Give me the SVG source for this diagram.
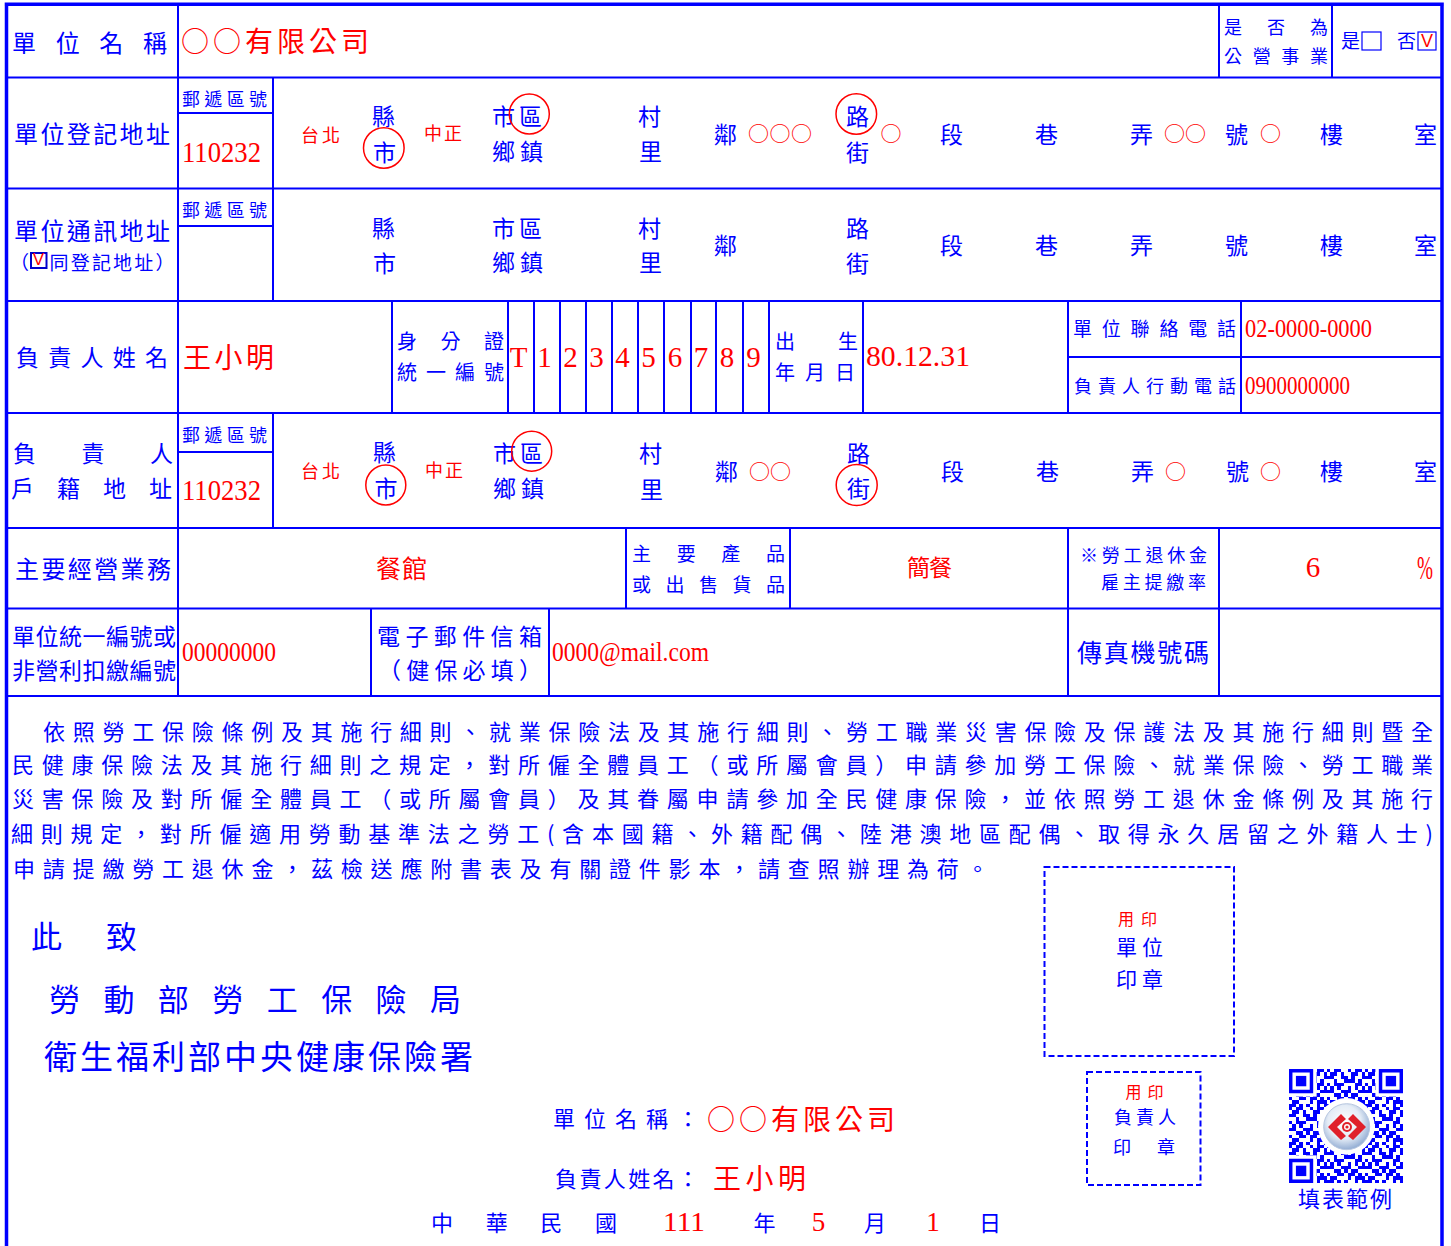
<svg xmlns="http://www.w3.org/2000/svg" width="1451" height="1246" viewBox="0 0 1451 1246">
<style>
.t{font-family:"Noto Sans CJK TC","Noto Sans CJK SC",sans-serif;fill:#0000FF}
.rd{fill:#FF0000}
.s{font-family:"Liberation Serif","Noto Sans CJK TC",serif;fill:#FF0000}
.ln{stroke:#0000FF;stroke-width:2;fill:none}
.ob{stroke:#0000FF;stroke-width:3.5;fill:none}
.ring{fill:none;stroke:#FF0000;stroke-width:1.5}
.dash{fill:none;stroke:#0000FF;stroke-width:2;stroke-dasharray:6 3}
.bx{fill:none;stroke:#0000FF;stroke-width:1.2}
.v{font-family:"Liberation Sans",sans-serif;fill:#FF0000}
</style>
<defs>
<pattern id="qrt" patternUnits="userSpaceOnUse" width="11" height="11">
<path fill="#0000FF" shape-rendering="crispEdges" d="M0 0h1v1h-1z M2 0h2v1h-2z M6 0h1v1h-1z M8 0h2v1h-2z M1 1h2v1h-2z M4 1h1v1h-1z M7 1h2v1h-2z M10 1h1v1h-1z M0 2h2v1h-2z M4 2h2v1h-2z M7 2h1v1h-1z M10 2h1v1h-1z M2 3h1v1h-1z M5 3h3v1h-3z M9 3h1v1h-1z M0 4h1v1h-1z M2 4h3v1h-3z M8 4h2v1h-2z M1 5h1v1h-1z M3 5h1v1h-1z M6 5h1v1h-1z M8 5h1v1h-1z M10 5h1v1h-1z M0 6h2v1h-2z M4 6h3v1h-3z M9 6h2v1h-2z M2 7h2v1h-2z M5 7h1v1h-1z M7 7h2v1h-2z M0 8h1v1h-1z M3 8h2v1h-2z M6 8h2v1h-2z M9 8h1v1h-1z M1 9h2v1h-2z M6 9h1v1h-1z M8 9h3v1h-3z M0 10h2v1h-2z M3 10h1v1h-1z M5 10h1v1h-1z M8 10h1v1h-1z M10 10h1v1h-1z"/>
</pattern>
<radialGradient id="lg" cx="0.45" cy="0.4" r="0.6">
<stop offset="0" stop-color="#ffffff"/>
<stop offset="0.6" stop-color="#e4ecf6"/>
<stop offset="1" stop-color="#94aed4"/>
</radialGradient>
</defs>
<rect width="1451" height="1246" fill="#ffffff"/>

<g id="connectors">
<path class="ob" d="M4.7 4.2H1443.8 M6.5 2.5V1246 M1442 2.5V1246"/>
<path class="ln" d="M6.5 77.5H1442 M6.5 188.5H1442 M6.5 301H1442 M6.5 413H1442 M6.5 528H1442 M6.5 608.5H1442 M6.5 696H1442 M178 4V696 M1219 4V77.5 M1332 4V77.5 M273 77.5V301 M273 413V528 M178 113H273 M178 226H273 M178 452H273 M392 301V413 M508 301V413 M534 301V413 M560 301V413 M586 301V413 M612 301V413 M638 301V413 M664 301V413 M691 301V413 M716 301V413 M743 301V413 M769 301V413 M863 301V413 M1068 301V413 M1241 301V413 M1068 357H1442 M626 528V608.5 M790 528V608.5 M1068 528V696 M1219 528V696 M371 608.5V696 M549 608.5V696"/>
</g>

<g id="row-name">
<text class="t" x="12" y="51.6" font-size="24" textLength="155" lengthAdjust="spacing">單位名稱</text>
<text class="t rd" x="181" y="52.3" font-size="28" textLength="188" lengthAdjust="spacing">○○有限公司</text>
<text class="t" x="1224" y="33.8" font-size="18" textLength="104" lengthAdjust="spacing">是否為</text>
<text class="t" x="1224" y="62.8" font-size="18" textLength="104" lengthAdjust="spacing">公營事業</text>
<text class="t" x="1341" y="48.2" font-size="19">是</text>
<rect class="bx" x="1362" y="32" width="19" height="18"/>
<text class="t" x="1397" y="48.2" font-size="19">否</text>
<rect class="bx" x="1418" y="32" width="18" height="18"/>
<text class="v" x="1427" y="47" font-size="18" text-anchor="middle">V</text>
</g>

<g id="row-reg-address">
<text class="t" x="14" y="143.1" font-size="24" textLength="156" lengthAdjust="spacing">單位登記地址</text>
<text class="t" x="182" y="105.8" font-size="18" textLength="85" lengthAdjust="spacing">郵遞區號</text>
<text class="s" x="182" y="162.3" font-size="29" textLength="79" lengthAdjust="spacingAndGlyphs">110232</text>
<text class="t rd" x="301" y="141.8" font-size="18" textLength="39" lengthAdjust="spacing">台北</text>
<text class="t" x="372" y="125.2" font-size="23">縣</text>
<text class="t" x="373" y="160.7" font-size="23">市</text>
<circle class="ring" cx="383.8" cy="148" r="20.3"/>
<text class="t rd" x="424" y="140.3" font-size="18" textLength="38" lengthAdjust="spacing">中正</text>
<text class="t" x="492" y="125.4" font-size="23" textLength="50" lengthAdjust="spacing">市區</text>
<circle class="ring" cx="529.3" cy="114" r="20"/>
<text class="t" x="492" y="159.7" font-size="23" textLength="51" lengthAdjust="spacing">鄉鎮</text>
<text class="t" x="638" y="125.4" font-size="23">村</text>
<text class="t" x="639" y="159.7" font-size="23">里</text>
<text class="t" x="714" y="143.2" font-size="23">鄰</text>
<text class="t rd" x="748" y="141.3" font-size="21" textLength="64" lengthAdjust="spacing">○○○</text>
<text class="t" x="846" y="125.4" font-size="23">路</text>
<circle class="ring" cx="856.3" cy="114" r="20.3"/>
<text class="t" x="846" y="160.7" font-size="23">街</text>
<text class="t rd" x="880.5" y="141.3" font-size="21">○</text>
<text class="t" x="940" y="143.2" font-size="23">段</text>
<text class="t" x="1035" y="143.2" font-size="23">巷</text>
<text class="t" x="1130" y="143.2" font-size="23">弄</text>
<text class="t rd" x="1164" y="141.3" font-size="21" textLength="42" lengthAdjust="spacing">○○</text>
<text class="t" x="1225" y="143.2" font-size="23">號</text>
<text class="t rd" x="1260" y="141.3" font-size="21">○</text>
<text class="t" x="1320" y="143.2" font-size="23">樓</text>
<text class="t" x="1414" y="143.2" font-size="23">室</text>
</g>

<g id="row-mail-address">
<text class="t" x="14" y="240.1" font-size="24" textLength="156" lengthAdjust="spacing">單位通訊地址</text>
<text class="t" x="10" y="269.7" font-size="19">（</text>
<rect x="31" y="253" width="15.5" height="15" fill="none" stroke="#0000CC" stroke-width="2"/>
<text class="v" x="38.5" y="265" font-size="17" text-anchor="middle">V</text>
<text class="t" x="49.5" y="269.7" font-size="19" textLength="125" lengthAdjust="spacing">同登記地址）</text>
<text class="t" x="182" y="217.1" font-size="18" textLength="85" lengthAdjust="spacing">郵遞區號</text>
<text class="t" x="372" y="237.4" font-size="23">縣</text>
<text class="t" x="373" y="271.7" font-size="23">市</text>
<text class="t" x="492" y="236.7" font-size="23" textLength="50" lengthAdjust="spacing">市區</text>
<text class="t" x="492" y="271.2" font-size="23" textLength="51" lengthAdjust="spacing">鄉鎮</text>
<text class="t" x="638" y="236.7" font-size="23">村</text>
<text class="t" x="639" y="271.2" font-size="23">里</text>
<text class="t" x="714" y="254.2" font-size="23">鄰</text>
<text class="t" x="846" y="237.2" font-size="23">路</text>
<text class="t" x="846" y="271.7" font-size="23">街</text>
<text class="t" x="940" y="254.2" font-size="23">段</text>
<text class="t" x="1035" y="254.2" font-size="23">巷</text>
<text class="t" x="1130" y="254.2" font-size="23">弄</text>
<text class="t" x="1225" y="254.2" font-size="23">號</text>
<text class="t" x="1320" y="254.2" font-size="23">樓</text>
<text class="t" x="1414" y="254.2" font-size="23">室</text>
</g>

<g id="row-owner">
<text class="t" x="16" y="366.2" font-size="23" textLength="152" lengthAdjust="spacing">負責人姓名</text>
<text class="t rd" x="183" y="368.1" font-size="28" textLength="91" lengthAdjust="spacing">王小明</text>
<text class="t" x="397" y="348.6" font-size="20" textLength="107" lengthAdjust="spacing">身分證</text>
<text class="t" x="397" y="380.1" font-size="20" textLength="107" lengthAdjust="spacing">統一編號</text>
<g class="s" font-size="29" text-anchor="middle">
<text x="518.5" y="366.6">T</text>
<text x="544.5" y="366.6">1</text>
<text x="570.5" y="366.6">2</text>
<text x="596.5" y="366.6">3</text>
<text x="622.5" y="366.6">4</text>
<text x="648.5" y="366.6">5</text>
<text x="675" y="366.6">6</text>
<text x="701" y="366.6">7</text>
<text x="727" y="366.6">8</text>
<text x="753.5" y="366.6">9</text>
</g>
<text class="t" x="775" y="348.6" font-size="20" textLength="83" lengthAdjust="spacing">出生</text>
<text class="t" x="775" y="380.3" font-size="20" textLength="80" lengthAdjust="spacing">年月日</text>
<text class="s" x="866" y="366.3" font-size="29" textLength="104" lengthAdjust="spacingAndGlyphs">80.12.31</text>
<text class="t" x="1073" y="336.2" font-size="19" textLength="163" lengthAdjust="spacing">單位聯絡電話</text>
<text class="s" x="1245" y="336.6" font-size="26" textLength="127" lengthAdjust="spacingAndGlyphs">02-0000-0000</text>
<text class="t" x="1074" y="393.1" font-size="18" textLength="162" lengthAdjust="spacing">負責人行動電話</text>
<text class="s" x="1245" y="393.9" font-size="26" textLength="105" lengthAdjust="spacingAndGlyphs">0900000000</text>
</g>

<g id="row-owner-address">
<text class="t" x="13" y="461.7" font-size="23" textLength="160" lengthAdjust="spacing">負責人</text>
<text class="t" x="11" y="496.7" font-size="23" textLength="161" lengthAdjust="spacing">戶籍地址</text>
<text class="t" x="182" y="442.3" font-size="18" textLength="85" lengthAdjust="spacing">郵遞區號</text>
<text class="s" x="182" y="499.6" font-size="29" textLength="79" lengthAdjust="spacingAndGlyphs">110232</text>
<text class="t rd" x="301" y="477.8" font-size="18" textLength="39" lengthAdjust="spacing">台北</text>
<text class="t" x="373" y="461.2" font-size="23">縣</text>
<text class="t" x="374.5" y="496.7" font-size="23">市</text>
<circle class="ring" cx="385.8" cy="485" r="20"/>
<text class="t rd" x="425" y="476.8" font-size="18" textLength="38" lengthAdjust="spacing">中正</text>
<text class="t" x="493" y="461.7" font-size="23" textLength="50" lengthAdjust="spacing">市區</text>
<circle class="ring" cx="531.7" cy="451.2" r="20"/>
<text class="t" x="493" y="496.7" font-size="23" textLength="51" lengthAdjust="spacing">鄉鎮</text>
<text class="t" x="639" y="461.7" font-size="23">村</text>
<text class="t" x="640" y="497.7" font-size="23">里</text>
<text class="t" x="715" y="479.7" font-size="23">鄰</text>
<text class="t rd" x="749" y="478.5" font-size="21" textLength="42" lengthAdjust="spacing">○○</text>
<text class="t" x="847" y="462" font-size="23">路</text>
<text class="t" x="847" y="496.7" font-size="23">街</text>
<circle class="ring" cx="856.7" cy="485" r="20.5"/>
<text class="t" x="941" y="479.7" font-size="23">段</text>
<text class="t" x="1036" y="480.2" font-size="23">巷</text>
<text class="t" x="1131" y="480.2" font-size="23">弄</text>
<text class="t rd" x="1165" y="478.5" font-size="21">○</text>
<text class="t" x="1226" y="480.2" font-size="23">號</text>
<text class="t rd" x="1260" y="478.5" font-size="21">○</text>
<text class="t" x="1320" y="480.2" font-size="23">樓</text>
<text class="t" x="1414" y="480.2" font-size="23">室</text>
</g>

<g id="row-business">
<text class="t" x="15" y="577.9" font-size="24" textLength="156" lengthAdjust="spacing">主要經營業務</text>
<text class="t rd" x="376" y="578.3" font-size="25" textLength="51" lengthAdjust="spacing">餐館</text>
<text class="t" x="632" y="561" font-size="19" textLength="153" lengthAdjust="spacing">主要產品</text>
<text class="t" x="632" y="591.7" font-size="19" textLength="153" lengthAdjust="spacing">或出售貨品</text>
<text class="t rd" x="907" y="576.2" font-size="23" textLength="45" lengthAdjust="spacing">簡餐</text>
<text class="t" x="1080" y="562.1" font-size="18" textLength="127" lengthAdjust="spacing">※勞工退休金</text>
<text class="t" x="1101" y="589.3" font-size="18" textLength="105" lengthAdjust="spacing">雇主提繳率</text>
<text class="s" x="1313" y="576.6" font-size="29" text-anchor="middle">6</text>
<text class="s" x="1417" y="578.7" font-size="34" textLength="16" lengthAdjust="spacingAndGlyphs">%</text>
</g>

<g id="row-ids">
<text class="t" x="12" y="644.5" font-size="23" textLength="164" lengthAdjust="spacing">單位統一編號或</text>
<text class="t" x="12" y="679.2" font-size="23" textLength="164" lengthAdjust="spacing">非營利扣繳編號</text>
<text class="s" x="182" y="661.2" font-size="28" textLength="94" lengthAdjust="spacingAndGlyphs">00000000</text>
<text class="t" x="377" y="644.7" font-size="23" textLength="165" lengthAdjust="spacing">電子郵件信箱</text>
<text class="t" x="378" y="679.2" font-size="23" textLength="164" lengthAdjust="spacing">（健保必填）</text>
<text class="s" x="552" y="661.2" font-size="27" textLength="157" lengthAdjust="spacingAndGlyphs">0000@mail.com</text>
<text class="t" x="1077" y="662" font-size="25" textLength="132" lengthAdjust="spacing">傳真機號碼</text>
</g>

<g id="statement" class="t" font-size="22">
<text x="43" y="740.4" textLength="1390" lengthAdjust="spacing">依照勞工保險條例及其施行細則、就業保險法及其施行細則、勞工職業災害保險及保護法及其施行細則暨全</text>
<text x="12" y="773.4" textLength="1421" lengthAdjust="spacing">民健康保險法及其施行細則之規定，對所僱全體員工（或所屬會員）申請參加勞工保險、就業保險、勞工職業</text>
<text x="12" y="807.4" textLength="1421" lengthAdjust="spacing">災害保險及對所僱全體員工（或所屬會員）及其眷屬申請參加全民健康保險，並依照勞工退休金條例及其施行</text>
<text x="11" y="842.4" textLength="1422" lengthAdjust="spacing">細則規定，對所僱適用勞動基準法之勞工(含本國籍、外籍配偶、陸港澳地區配偶、取得永久居留之外籍人士)</text>
<text x="13" y="877.4" letter-spacing="7.8">申請提繳勞工退休金，茲檢送應附書表及有關證件影本，請查照辦理為荷。</text>
</g>

<g id="addressee" class="t">
<text x="31" y="947.8" font-size="31">此</text>
<text x="106" y="947.8" font-size="31">致</text>
<text x="49" y="1010.8" font-size="31" textLength="412" lengthAdjust="spacing">勞動部勞工保險局</text>
<text x="44" y="1068.5" font-size="33" textLength="429" lengthAdjust="spacing">衛生福利部中央健康保險署</text>
</g>

<g id="stamp-unit">
<rect class="dash" x="1044.5" y="867" width="189.5" height="189"/>
<text class="t rd" x="1118" y="925" font-size="16" textLength="39" lengthAdjust="spacing">用印</text>
<text class="t" x="1116" y="955" font-size="21" textLength="47" lengthAdjust="spacing">單位</text>
<text class="t" x="1116" y="987" font-size="21" textLength="47" lengthAdjust="spacing">印章</text>
</g>

<g id="stamp-owner">
<rect class="dash" x="1087" y="1072" width="113.5" height="113"/>
<text class="t rd" x="1125.5" y="1097.5" font-size="16" textLength="38" lengthAdjust="spacing">用印</text>
<text class="t" x="1114" y="1124" font-size="18" textLength="62" lengthAdjust="spacing">負責人</text>
<text class="t" x="1113" y="1153.5" font-size="18" textLength="62" lengthAdjust="spacing">印章</text>
</g>

<g id="qr">
<g transform="translate(1289 1069) scale(3.4545)">
<rect width="33" height="33" fill="url(#qrt)"/>
<rect x="0" y="0" width="8" height="8" fill="#fff"/>
<rect x="25" y="0" width="8" height="8" fill="#fff"/>
<rect x="0" y="25" width="8" height="8" fill="#fff"/>
<g fill="#0000FF">
<path fill-rule="evenodd" d="M0 0h7v7h-7z M1 1v5h5v-5z M26 0h7v7h-7z M27 1v5h5v-5z M0 26h7v7h-7z M1 27v5h5v-5z"/>
<rect x="2" y="2" width="3" height="3"/>
<rect x="28" y="2" width="3" height="3"/>
<rect x="2" y="28" width="3" height="3"/>
</g>
<circle cx="16.6" cy="16.6" r="8.2" fill="#fff"/>
</g>
<circle cx="1346.7" cy="1126.7" r="23" fill="url(#lg)" stroke="#b7c7e0" stroke-width="1"/>
<path fill="#E0202A" d="M1328 1127 L1341 1114 L1346 1119 L1337 1127 L1346 1136 L1341 1140 Z M1366 1127 L1353 1114 L1348 1119 L1357 1127 L1348 1136 L1353 1140 Z"/>
<circle cx="1347" cy="1127" r="5" fill="#E0202A"/>
<circle cx="1347" cy="1127" r="3" fill="#fff"/>
<circle cx="1347" cy="1127" r="1.6" fill="#E0202A"/>
<text class="t" x="1298" y="1206.9" font-size="22" textLength="94" lengthAdjust="spacing">填表範例</text>
</g>

<g id="signature">
<text class="t" x="553" y="1127.4" font-size="22" textLength="146" lengthAdjust="spacing">單位名稱：</text>
<text class="t rd" x="707" y="1129.6" font-size="28" textLength="188" lengthAdjust="spacing">○○有限公司</text>
<text class="t" x="555" y="1187.4" font-size="22" textLength="144" lengthAdjust="spacing">負責人姓名：</text>
<text class="t rd" x="713" y="1188.6" font-size="28" textLength="93" lengthAdjust="spacing">王小明</text>
<text class="t" x="431" y="1231.4" font-size="22" textLength="186" lengthAdjust="spacing">中華民國</text>
<text class="s" x="663" y="1230.9" font-size="27" textLength="42" lengthAdjust="spacingAndGlyphs">111</text>
<text class="t" x="753.5" y="1231.4" font-size="22">年</text>
<text class="s" x="818.5" y="1230.9" font-size="27" text-anchor="middle">5</text>
<text class="t" x="864" y="1231.4" font-size="22">月</text>
<text class="s" x="933" y="1230.9" font-size="27" text-anchor="middle">1</text>
<text class="t" x="979" y="1231.4" font-size="22">日</text>
</g>
</svg>
